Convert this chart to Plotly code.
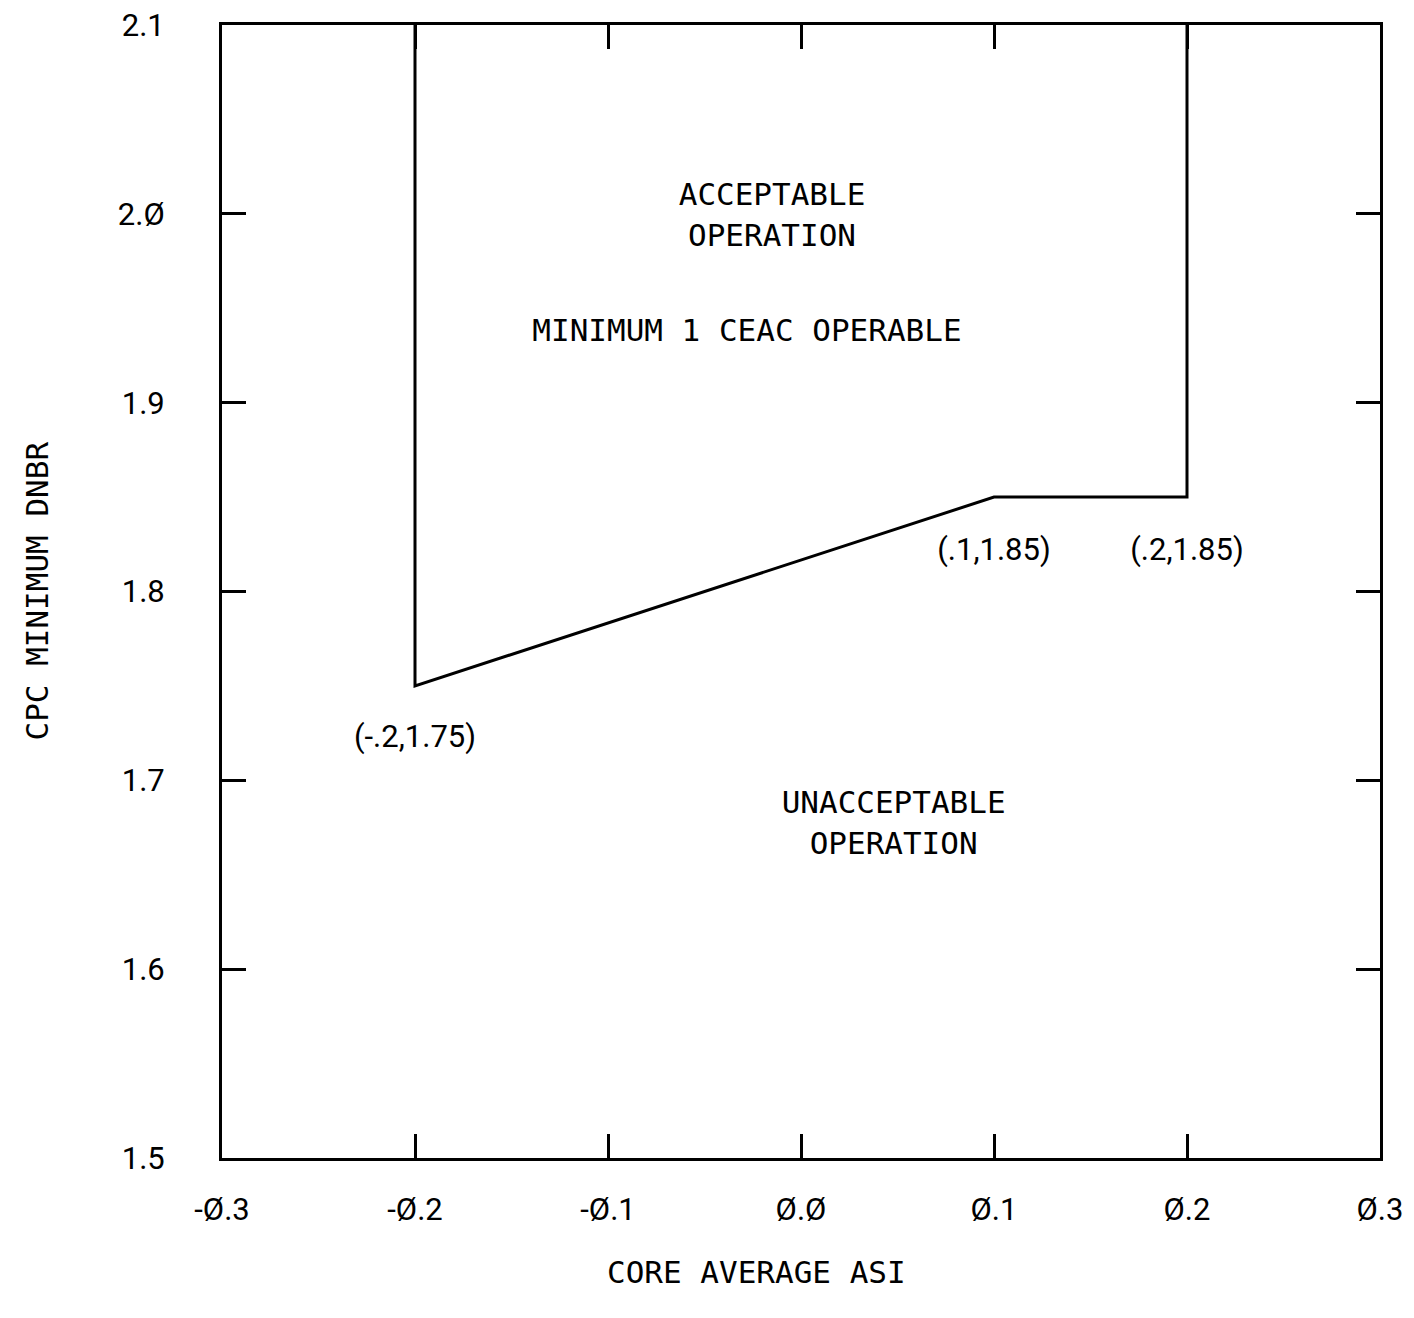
import plotly.graph_objects as go

# Boundary of acceptable operation
bx = [-0.2, -0.2, 0.1, 0.2, 0.2]
by = [2.1, 1.75, 1.85, 1.85, 2.1]

xticks = [-0.3, -0.2, -0.1, 0.0, 0.1, 0.2, 0.3]
xticktext = ["-Ø.3", "-Ø.2", "-Ø.1", "Ø.Ø", "Ø.1", "Ø.2", "Ø.3"]
yticks = [1.5, 1.6, 1.7, 1.8, 1.9, 2.0, 2.1]
yticktext = ["1.5", "1.6", "1.7", "1.8", "1.9", "2.Ø", "2.1"]

point_labels = ["(-.2,1.75)", "(.1,1.85)", "(.2,1.85)"]
point_x = [-0.2, 0.1, 0.2]
point_y = [1.722, 1.821, 1.821]

region_text = ["ACCEPTABLE<br>OPERATION", "MINIMUM 1 CEAC OPERABLE", "UNACCEPTABLE<br>OPERATION"]
region_x = [-0.015, -0.028, 0.048]
region_y = [1.998, 1.937, 1.676]

MONO = "DejaVu Sans Mono"
PROP = "Roboto"

fig = go.Figure()
fig.add_trace(go.Scatter(x=bx, y=by, mode="lines",
                         line=dict(color="black", width=3), showlegend=False,
                         hoverinfo="skip"))
fig.add_trace(go.Scatter(x=point_x, y=point_y, mode="text", text=point_labels,
                         textfont=dict(family=PROP, size=31, color="black"),
                         showlegend=False, hoverinfo="skip"))
fig.add_trace(go.Scatter(x=region_x, y=region_y, mode="text", text=region_text,
                         textfont=dict(family=MONO, size=31, color="black"),
                         showlegend=False, hoverinfo="skip"))

axis_common = dict(showgrid=False, zeroline=False, showline=True, linecolor="black",
                   linewidth=3, mirror="ticks", ticks="inside", ticklen=24,
                   tickwidth=3, tickcolor="black", automargin=False,
                   ticklabeloverflow="allow",
                   tickfont=dict(family=PROP, size=31, color="black"))

fig.update_xaxes(range=[-0.3, 0.3], tickvals=xticks, ticktext=xticktext,
                 ticklabelstandoff=22, **axis_common)
fig.update_yaxes(range=[1.5, 2.1], tickvals=yticks, ticktext=yticktext,
                 ticklabelstandoff=48, **axis_common)

fig.add_annotation(text="CORE AVERAGE ASI", xref="paper", yref="paper",
                   x=0.462, y=-0.101, showarrow=False, xanchor="center", yanchor="middle",
                   font=dict(family=MONO, size=31, color="black"))
fig.add_annotation(text="CPC MINIMUM DNBR", xref="paper", yref="paper",
                   x=-0.1606, y=0.5, textangle=-90, showarrow=False,
                   xanchor="center", yanchor="middle",
                   font=dict(family=MONO, size=31, color="black"))

fig.update_layout(width=1414, height=1318, plot_bgcolor="white", paper_bgcolor="white",
                  margin=dict(l=214, r=42, t=17, b=168))

fig.write_html("out.html")
